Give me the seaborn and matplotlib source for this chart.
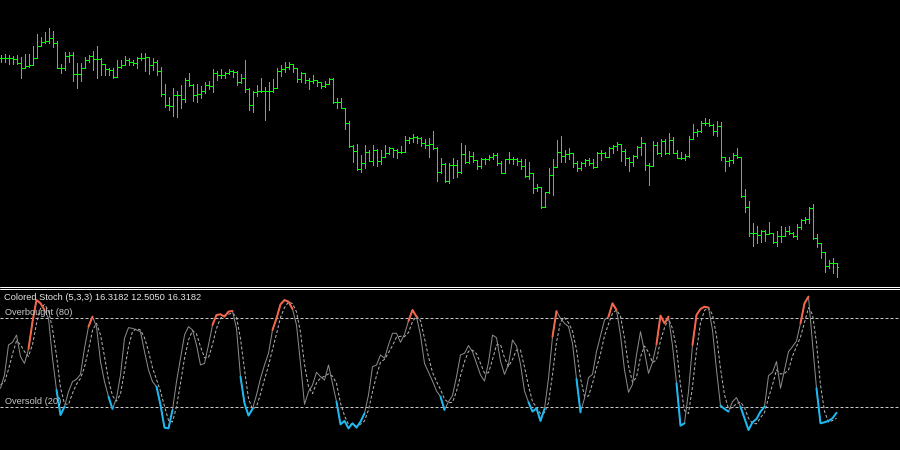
import numpy as np
import pandas as pd
import matplotlib.pyplot as plt
from matplotlib.lines import Line2D
import seaborn as sns

# Barras del gráfico principal (precio en unidades arbitrarias)
highs = [245.0, 245.7, 245.0, 244.0, 245.0, 243.0, 245.7, 245.7, 254.0, 265.7,
         263.3, 268.3, 271.7, 269.0, 259.0, 235.7, 247.7, 247.7, 247.7, 236.7,
         236.7, 243.3, 245.0, 249.3, 254.0, 241.7, 235.0, 232.3, 232.3, 240.0,
         240.0, 244.3, 241.7, 240.0, 242.7, 247.3, 246.7, 241.7, 241.7, 240.0,
         233.3, 215.7, 203.3, 212.3, 209.0, 215.0, 221.7, 226.7, 215.7, 215.7,
         214.3, 218.3, 219.0, 231.0, 229.0, 231.0, 228.3, 231.0, 230.0, 229.0,
         225.7, 240.0, 212.3, 209.0, 215.0, 222.3, 213.3, 218.3, 221.0, 231.7,
         235.0, 237.7, 238.3, 235.7, 225.0, 227.7, 226.7, 221.7, 225.0, 220.0,
         218.3, 219.0, 222.3, 222.3, 201.7, 201.7, 191.7, 179.0, 155.0, 155.7,
         145.0, 155.0, 150.0, 155.0, 151.0, 150.0, 155.0, 153.3, 151.7, 151.0,
         154.3, 164.3, 163.3, 165.7, 164.3, 162.7, 161.0, 161.7, 169.0, 152.7,
         141.7, 136.7, 136.7, 141.7, 140.0, 156.7, 155.0, 149.0, 148.3, 140.0,
         141.7, 141.7, 145.0, 146.7, 147.3, 139.3, 140.7, 147.7, 142.7, 141.7,
         140.7, 140.7, 138.3, 127.3, 116.0, 113.3, 108.3, 131.7, 140.7, 160.0,
         164.0, 150.0, 151.7, 146.7, 139.3, 138.3, 140.7, 141.7, 140.7, 148.3,
         150.0, 148.3, 152.7, 155.0, 158.3, 155.0, 150.7, 143.3, 145.0, 154.0,
         163.3, 156.7, 136.7, 159.3, 158.3, 160.7, 160.7, 166.7, 162.7, 150.0,
         148.3, 146.0, 164.0, 176.0, 170.7, 179.3, 181.7, 180.7, 176.0, 179.3,
         178.0, 143.3, 143.3, 147.3, 151.7, 143.3, 110.7, 99.3, 76.7, 74.0,
         70.0, 70.0, 77.7, 66.7, 69.3, 74.0, 72.7, 74.0, 68.3, 76.0,
         80.7, 82.7, 92.7, 96.0, 66.0, 57.3, 48.3, 40.0, 41.7, 37.3]
lows = [237.7, 237.7, 236.0, 236.3, 236.0, 222.3, 231.7, 233.3, 241.7, 248.3,
        256.7, 256.7, 256.7, 253.3, 231.7, 226.7, 230.0, 238.3, 219.0, 212.3,
        219.0, 231.7, 238.3, 230.0, 222.3, 225.0, 225.0, 225.0, 222.3, 223.3,
        231.7, 235.0, 235.0, 235.0, 232.3, 239.7, 229.3, 226.0, 230.0, 225.0,
        204.3, 193.3, 190.0, 184.3, 183.3, 192.3, 198.3, 214.3, 199.0, 197.7,
        201.7, 206.7, 211.0, 208.3, 220.0, 221.7, 222.3, 225.7, 223.3, 215.0,
        216.7, 208.3, 190.0, 188.3, 204.3, 208.3, 180.0, 190.0, 208.3, 211.7,
        224.3, 228.5, 231.0, 227.7, 217.7, 218.3, 216.7, 211.0, 216.7, 214.3,
        211.7, 213.3, 215.7, 196.7, 191.7, 191.7, 171.0, 153.3, 138.3, 130.0,
        128.3, 131.7, 139.0, 135.0, 134.3, 135.7, 145.0, 145.7, 143.3, 142.3,
        146.7, 148.3, 156.7, 157.7, 156.7, 154.3, 152.0, 143.3, 150.7, 119.3,
        126.7, 118.3, 117.3, 121.7, 122.7, 127.3, 136.7, 137.3, 138.3, 130.7,
        131.7, 136.0, 140.0, 140.7, 135.0, 126.7, 126.7, 137.3, 136.0, 135.0,
        130.7, 122.7, 120.7, 107.3, 109.3, 91.7, 93.3, 107.3, 105.0, 133.3,
        138.3, 138.3, 140.7, 132.7, 129.3, 130.0, 134.0, 135.0, 131.7, 132.7,
        140.0, 142.7, 142.7, 147.3, 150.0, 139.3, 135.0, 129.3, 134.0, 141.7,
        145.0, 130.0, 115.0, 134.0, 146.0, 144.0, 146.0, 146.0, 146.7, 141.7,
        140.7, 140.0, 143.3, 160.7, 164.0, 168.3, 175.0, 174.0, 165.0, 164.0,
        140.0, 129.3, 134.0, 137.3, 141.7, 102.7, 88.3, 64.0, 54.0, 57.3,
        58.3, 59.3, 66.0, 57.3, 54.0, 58.3, 64.0, 66.0, 62.7, 60.7,
        70.7, 77.3, 77.3, 60.7, 53.3, 41.7, 28.3, 31.7, 27.3, 22.7]
closes = [241.7, 241.7, 241.7, 240.7, 237.0, 232.3, 234.3, 235.0, 242.3, 254.3,
          258.3, 259.3, 262.3, 256.7, 232.3, 232.3, 244.3, 245.0, 225.7, 225.7,
          232.3, 240.0, 244.0, 240.7, 240.7, 235.7, 230.7, 230.0, 223.3, 233.3,
          235.0, 240.0, 237.7, 237.3, 241.7, 242.3, 243.3, 235.0, 237.7, 229.0,
          205.7, 195.0, 194.0, 205.0, 205.0, 201.0, 220.0, 215.0, 205.0, 205.7,
          209.0, 215.0, 214.3, 226.7, 225.0, 225.0, 226.7, 229.0, 228.3, 217.7,
          221.7, 211.0, 195.0, 208.3, 209.0, 209.0, 209.0, 209.0, 212.3, 229.0,
          231.0, 233.3, 235.7, 231.7, 221.0, 226.7, 220.0, 219.0, 220.0, 218.3,
          214.3, 215.7, 221.0, 197.7, 198.3, 192.3, 176.7, 154.3, 149.0, 131.0,
          136.7, 148.3, 139.0, 150.0, 139.0, 143.3, 146.7, 151.7, 150.0, 147.7,
          148.3, 160.0, 162.3, 163.3, 162.3, 157.0, 155.3, 156.0, 151.7, 128.3,
          136.0, 119.3, 135.0, 135.0, 128.3, 146.0, 138.3, 144.0, 140.0, 134.0,
          140.7, 140.7, 142.7, 145.0, 137.3, 127.3, 140.7, 140.7, 140.7, 139.3,
          134.0, 124.0, 127.3, 111.7, 112.7, 93.3, 108.3, 125.0, 133.3, 147.7,
          144.0, 146.0, 146.7, 137.3, 131.7, 137.3, 140.0, 137.3, 133.3, 146.7,
          146.7, 143.3, 151.7, 154.0, 156.0, 149.3, 141.7, 138.3, 144.0, 152.7,
          156.7, 135.0, 134.0, 155.0, 147.3, 159.3, 146.7, 160.0, 147.3, 141.7,
          141.7, 144.0, 160.7, 168.3, 169.3, 177.3, 177.3, 175.0, 169.3, 174.0,
          143.3, 139.3, 140.0, 145.0, 143.3, 104.0, 92.7, 66.7, 66.7, 65.0,
          69.3, 66.0, 66.7, 58.3, 64.0, 64.0, 69.3, 67.3, 64.0, 72.7,
          80.0, 80.7, 91.7, 61.7, 57.3, 48.3, 34.0, 37.3, 36.7, 32.7]

# Estocástico (5,3,3): línea principal y señal
stoch_k = [32.8, 41.8, 62.0, 63.8, 68.7, 54.1, 49.6, 59.3, 77.7, 92.3,
           90.1, 85.6, 80.0, 53.0, 31.7, 14.8, 20.4, 30.5, 37.3, 38.9,
           42.2, 59.8, 74.4, 81.1, 74.4, 50.8, 37.3, 27.2, 18.9, 26.1,
           41.8, 66.5, 73.7, 73.2, 72.1, 71.0, 57.5, 45.2, 37.3, 33.9,
           21.6, 6.3, 5.8, 18.2, 37.3, 53.0, 68.7, 74.4, 72.1, 62.0,
           48.5, 49.6, 62.0, 75.5, 82.2, 82.7, 81.1, 84.5, 84.9, 73.2,
           40.6, 22.7, 14.4, 18.9, 28.3, 39.5, 48.5, 56.4, 72.1, 80.0,
           89.4, 92.3, 91.2, 86.3, 75.5, 49.6, 22.0, 30.5, 35.0, 43.6,
           40.6, 38.4, 48.5, 36.2, 23.8, 8.5, 10.8, 5.8, 9.2, 6.3,
           10.3, 15.9, 28.3, 47.4, 48.5, 55.3, 53.0, 62.0, 69.9, 69.9,
           63.8, 69.2, 78.2, 85.6, 81.1, 68.7, 49.6, 43.6, 37.7, 31.0,
           27.2, 18.2, 23.8, 27.9, 40.6, 55.3, 56.4, 61.6, 57.5, 49.6,
           41.8, 37.7, 50.3, 68.7, 66.9, 51.2, 42.2, 49.0, 65.4, 61.3,
           49.0, 31.0, 23.4, 17.1, 19.3, 10.8, 18.9, 39.5, 67.6, 84.9,
           80.0, 76.6, 74.4, 63.1, 39.1, 16.6, 26.1, 40.0, 42.2, 57.5,
           68.3, 78.9, 81.1, 90.1, 85.6, 68.7, 45.2, 30.1, 35.5, 55.3,
           71.0, 57.5, 42.9, 50.3, 62.5, 81.8, 76.6, 81.1, 61.6, 36.2,
           7.6, 9.2, 30.5, 62.0, 82.2, 86.3, 87.8, 87.2, 72.1, 45.2,
           21.1, 18.9, 17.1, 23.8, 26.5, 20.4, 12.6, 4.7, 9.9, 12.1,
           17.1, 20.4, 41.3, 43.6, 50.8, 32.8, 45.2, 57.5, 60.9, 64.7,
           76.6, 90.1, 94.6, 63.1, 32.8, 9.2, 9.9, 10.8, 12.6, 16.3]
stoch_d = [35.0, 37.0, 45.5, 55.9, 64.8, 62.2, 57.5, 54.3, 62.2, 76.4,
           86.7, 89.3, 85.2, 72.9, 54.9, 33.2, 22.3, 21.9, 29.4, 35.6,
           39.5, 47.0, 58.8, 71.8, 76.6, 68.8, 54.2, 38.4, 27.8, 24.1,
           28.9, 44.8, 60.7, 71.1, 73.0, 72.1, 66.9, 57.9, 46.7, 38.8,
           30.9, 20.6, 11.2, 10.1, 20.4, 36.2, 53.0, 65.4, 71.7, 69.5,
           60.9, 53.4, 53.4, 62.4, 73.2, 80.1, 82.0, 82.8, 83.5, 80.9,
           66.2, 45.5, 25.9, 18.7, 20.5, 28.9, 38.8, 48.1, 59.0, 69.5,
           80.5, 87.2, 91.0, 89.9, 84.3, 70.5, 49.0, 34.0, 29.2, 36.4,
           39.7, 40.9, 42.5, 41.0, 36.2, 22.8, 14.4, 8.4, 8.6, 7.1,
           8.6, 10.8, 18.2, 30.5, 41.4, 50.4, 52.3, 56.8, 61.6, 67.3,
           67.9, 67.6, 70.4, 77.7, 81.6, 78.5, 66.5, 54.0, 43.6, 37.4,
           32.0, 25.5, 23.1, 23.3, 30.8, 41.3, 50.8, 57.8, 58.5, 56.2,
           49.6, 43.0, 43.3, 52.2, 62.0, 62.3, 53.4, 47.5, 52.2, 58.6,
           58.6, 47.1, 34.5, 23.8, 19.9, 15.7, 16.3, 23.1, 42.0, 64.0,
           77.5, 80.5, 77.0, 71.4, 58.9, 39.6, 27.3, 27.6, 36.1, 46.6,
           56.0, 68.2, 76.1, 83.4, 85.6, 81.5, 66.5, 48.0, 36.9, 40.3,
           53.9, 61.3, 57.1, 50.2, 51.9, 64.9, 73.6, 79.8, 73.1, 59.6,
           35.1, 17.7, 15.8, 33.9, 58.2, 76.8, 85.4, 87.1, 82.4, 68.2,
           46.1, 28.4, 19.0, 19.9, 22.5, 23.6, 19.8, 12.6, 9.1, 8.9,
           13.0, 16.5, 26.3, 35.1, 45.2, 42.4, 42.9, 45.2, 54.5, 61.0,
           67.4, 77.1, 87.1, 82.6, 63.5, 35.0, 17.3, 10.0, 11.1, 12.5]

# Tramos coloreados de la línea principal (índice inicial, índice final)
red_segments = [(7, 11), (22, 23), (53, 58), (68, 73), (102, 104), (138, 139),
                (152, 154), (164, 167), (173, 177), (200, 202)]
blue_segments = [(14, 16), (27, 28), (39, 43), (60, 63), (84, 91), (110, 111),
                 (132, 136), (144, 145), (169, 171), (180, 182), (185, 191),
                 (204, 209)]

stoch_label = "Colored Stoch (5,3,3) 16.3182 12.5050 16.3182"
levels = {"Overbought (80)": 80, "Oversold (20)": 20}

sns.set_style("dark", {"axes.facecolor": "black", "figure.facecolor": "black"})
plt.rcParams['font.family'] = ['Liberation Sans', 'DejaVu Sans']

GREEN = '#00FF00'
PX = 0.72  # 1 pixel en puntos

n = len(closes)
bars = np.arange(n)
opens = [closes[0]] + closes[:-1]
bar_lo = np.minimum.reduce([lows, opens, closes])
bar_hi = np.maximum.reduce([highs, opens, closes])

df = pd.DataFrame({"bar": bars, "k": stoch_k, "d": stoch_d})

fig = plt.figure(figsize=(9, 4.5), dpi=100)
fig.patch.set_facecolor('black')
ax_price = fig.add_axes([0, 165 / 450, 1, 285 / 450])
ax_stoch = fig.add_axes([0, 0, 1, 161 / 450])

# Panel de precios: barras OHLC
ax_price.vlines(bars, bar_lo, bar_hi, colors=GREEN, lw=PX, antialiased=False)
ax_price.hlines(opens, bars - 0.35, bars, colors=GREEN, lw=PX, antialiased=False)
ax_price.hlines(closes, bars, bars + 0.35, colors=GREEN, lw=PX, antialiased=False)
ax_price.set_ylim(15, 300)

# Panel del estocástico
for label, lvl in levels.items():
    ax_stoch.axhline(lvl, color='#C8C8C8', lw=PX, linestyle=(0, (3, 2)))
sns.lineplot(data=df, x="bar", y="d", ax=ax_stoch, color='#B4B4B4', lw=PX,
             linestyle=(0, (3, 2)), estimator=None, sort=False)
sns.lineplot(data=df, x="bar", y="k", ax=ax_stoch, color='#8C8C8C', lw=PX,
             estimator=None, sort=False)
for segs, col in [(red_segments, '#F4664A'), (blue_segments, '#1CB8F0')]:
    for a, b in segs:
        sns.lineplot(data=df.iloc[a:b + 1], x="bar", y="k", ax=ax_stoch,
                     color=col, lw=2 * PX, estimator=None, sort=False)
ax_stoch.set_ylim(-8.8, 99.75)

ax_stoch.text(4 / 900, (450 - 298) / 161, stoch_label, transform=ax_stoch.transAxes,
              color='#E6E6E6', fontsize=6.7, va='center', ha='left')
for label, y_px in [("Overbought (80)", 312.3), ("Oversold (20)", 401.7)]:
    ax_stoch.text(5 / 900, (450 - y_px) / 161, label, transform=ax_stoch.transAxes,
                  color='#C8C8C8', fontsize=6.7, va='center', ha='left')

for ax in (ax_price, ax_stoch):
    ax.set_xlim(-0.125, 224.875)
    ax.set_axis_off()

# Separador doble entre ventanas
for y_px in (286.5, 288.5):
    fig.add_artist(Line2D([0, 1], [(450 - y_px) / 450] * 2, color='white',
                          lw=PX, transform=fig.transFigure))

fig.savefig('out.png', dpi=100, facecolor='black')
